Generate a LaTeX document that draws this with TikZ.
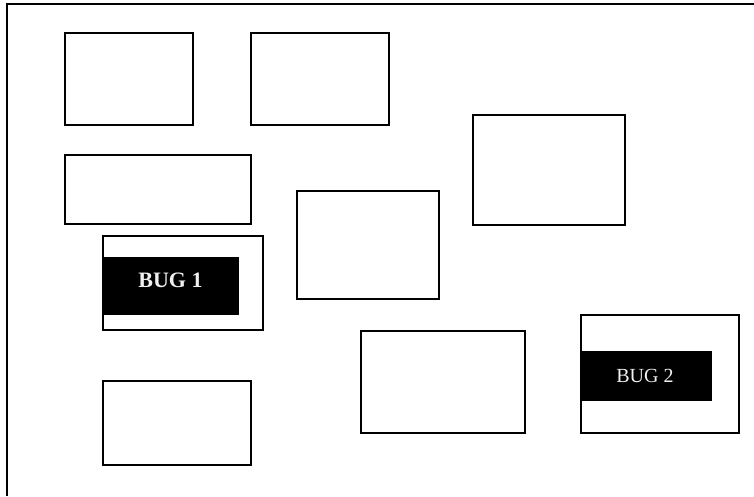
\documentclass[tikz,border=0pt]{standalone}
\usepackage{fontspec}
\setmainfont{Liberation Serif}
\begin{document}
\begin{tikzpicture}[x=1pt,y=-1pt,
  box/.style={draw=black, line width=2pt, rectangle, inner sep=0pt, anchor=north west},
  bugfill/.style={fill=black, draw=none, rectangle, inner sep=0pt, anchor=north west},
  buglabel/.style={text=white!94!black, font=\fontsize{20}{22}\selectfont, inner sep=0pt}
]
\useasboundingbox (0,0) rectangle (754,496);
% frame
\coordinate (ftr) at (754,4);
\coordinate (ftl) at (7,4);
\coordinate (fbl) at (7,496);
\draw[line width=2pt] (ftr) -- (ftl) -- (fbl);
% plain boxes
\node[box, minimum width=128pt, minimum height=92pt] (b1) at (64,32) {};
\node[box, minimum width=138pt, minimum height=92pt] (b2) at (250,32) {};
\node[box, minimum width=186pt, minimum height=69pt] (b3) at (64,154) {};
\node[box, minimum width=152pt, minimum height=110pt] (b4) at (472,114) {};
\node[box, minimum width=142pt, minimum height=108pt] (b5) at (296,190) {};
\node[box, minimum width=164pt, minimum height=102pt] (b7) at (360,330) {};
\node[box, minimum width=148pt, minimum height=84pt] (b9) at (102,380) {};
% bug 1
\node[bugfill, minimum width=137pt, minimum height=58pt] (bug1fill) at (102,257) {};
\node[box, minimum width=160pt, minimum height=94pt] (bug1box) at (102,235) {};
\node[buglabel, font=\fontsize{22}{24}\selectfont\bfseries] (bug1) at (170.5,280) {BUG 1};
% bug 2
\node[bugfill, minimum width=132pt, minimum height=50pt] (bug2fill) at (580,351) {};
\node[box, minimum width=158pt, minimum height=118pt] (bug2box) at (580,314) {};
\node[buglabel] (bug2) at (645,376) {BUG 2};
\end{tikzpicture}
\end{document}
